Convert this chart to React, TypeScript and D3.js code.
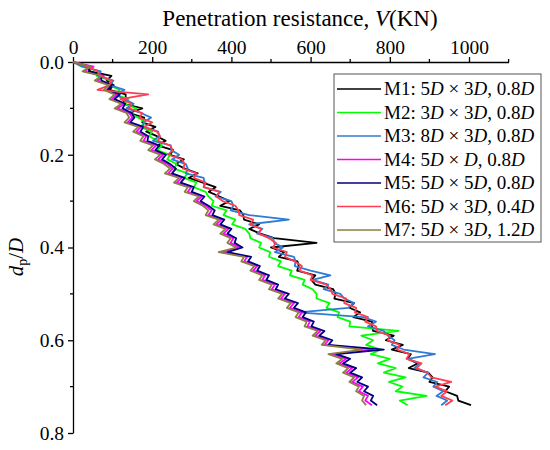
import React, { useEffect, useRef } from "react";
import * as d3 from "d3";

// depth ratio d_p/D shared by all runs
const depth = [
  0, 0.01, 0.02, 0.03, 0.04, 0.05, 0.06, 0.07, 0.08, 0.09,
  0.1, 0.11, 0.12, 0.13, 0.14, 0.15, 0.16, 0.17, 0.18, 0.19,
  0.2, 0.21, 0.22, 0.23, 0.24, 0.25, 0.26, 0.27, 0.28, 0.29,
  0.3, 0.31, 0.32, 0.33, 0.34, 0.35, 0.36, 0.37, 0.38, 0.39,
  0.4, 0.41, 0.42, 0.43, 0.44, 0.45, 0.46, 0.47, 0.48, 0.49,
  0.5, 0.51, 0.52, 0.53, 0.54, 0.55, 0.56, 0.57, 0.58, 0.59,
  0.6, 0.61, 0.62, 0.63, 0.64, 0.65, 0.66, 0.67, 0.68, 0.69,
  0.7, 0.71, 0.72, 0.73, 0.74,
];

// penetration resistance V (KN) per model
const m1 = [
  0, 40, 43, 97, 85, 103, 92, 133, 133, 125,
  175, 142, 180, 175, 208, 185, 212, 234, 213, 253,
  245, 280, 260, 282, 315, 292, 328, 360, 343, 370,
  395, 372, 422, 430, 432, 470, 445, 473, 508, 615,
  500, 533, 520, 567, 570, 566, 612, 602, 612, 657,
  663, 660, 710, 698, 725, 708, 755, 755, 758, 810,
  790, 833, 805, 853, 845, 870, 848, 897, 908, 900,
  950, 940, 970, 973, 1005,
];
const m2 = [
  0, 22, 68, 60, 95, 92, 118, 105, 140, 128,
  160, 140, 165, 182, 170, 200, 192, 215, 225, 212,
  245, 238, 262, 255, 290, 280, 312, 305, 335, 342,
  355, 350, 388, 380, 410, 402, 435, 445, 448, 475,
  470, 498, 495, 525, 518, 552, 548, 585, 580, 605,
  615, 615, 648, 640, 672, 668, 700, 698, 822, 728,
  758, 740, 778, 752, 800, 770, 815, 785, 840, 798,
  832, 815, 893, 825, 845,
];
const m3 = [
  0, 25, 70, 65, 102, 92, 130, 106, 130, 153,
  135, 172, 197, 178, 178, 215, 218, 202, 247, 248,
  268, 250, 285, 290, 285, 330, 332, 330, 373, 360,
  400, 405, 398, 445, 545, 445, 478, 465, 505, 508,
  530, 510, 558, 562, 560, 600, 650, 605, 645, 633,
  675, 685, 710, 695, 570, 733, 765, 745, 785, 795,
  812, 805, 835, 914, 845, 875, 862, 897, 885, 920,
  910, 935, 918, 945, 930,
];
const m4 = [
  0, 52, 28, 78, 62, 95, 85, 112, 98, 130,
  112, 142, 150, 138, 172, 160, 185, 178, 210, 198,
  228, 215, 238, 252, 240, 275, 262, 298, 290, 325,
  312, 335, 350, 342, 375, 362, 392, 380, 405, 398,
  420, 375, 440, 432, 465, 455, 485, 478, 510, 502,
  535, 525, 558, 548, 578, 570, 598, 592, 625, 612,
  645, 635, 758, 655, 690, 672, 705, 690, 720, 705,
  732, 722, 745, 738, 755,
];
const m5 = [
  0, 42, 40, 70, 72, 98, 88, 118, 105, 132,
  125, 148, 155, 145, 178, 170, 190, 188, 218, 208,
  235, 225, 245, 260, 250, 282, 272, 305, 300, 332,
  322, 342, 358, 352, 382, 372, 400, 390, 412, 408,
  428, 390, 450, 442, 472, 465, 495, 488, 518, 512,
  545, 535, 568, 558, 588, 580, 608, 602, 635, 622,
  655, 645, 785, 665, 700, 682, 715, 700, 730, 718,
  745, 735, 758, 752, 768,
];
const m6 = [
  0, 38, 62, 68, 98, 92, 62, 190, 120, 148,
  142, 175, 168, 200, 180, 212, 220, 215, 245, 252,
  240, 275, 282, 278, 312, 305, 335, 330, 370, 362,
  378, 410, 418, 420, 455, 448, 475, 470, 495, 512,
  505, 540, 535, 560, 578, 572, 605, 600, 640, 650,
  655, 690, 685, 715, 712, 745, 738, 765, 768, 800,
  795, 825, 818, 850, 842, 880, 868, 895, 905, 955,
  915, 945, 930, 958, 940,
];
const m7 = [
  0, 46, 24, 72, 55, 90, 78, 105, 92, 122,
  105, 135, 142, 130, 165, 152, 178, 170, 202, 190,
  220, 207, 230, 245, 232, 268, 255, 290, 282, 318,
  305, 328, 342, 335, 368, 355, 385, 372, 398, 390,
  412, 368, 432, 425, 458, 448, 478, 470, 502, 495,
  528, 518, 550, 540, 570, 562, 590, 585, 618, 605,
  638, 628, 730, 645, 680, 665, 695, 682, 710, 698,
  722, 715, 735, 730, 740,
];

const names = ["M1", "M2", "M3", "M4", "M5", "M6", "M7"];
const configs = ["5D × 3D, 0.8D", "3D × 3D, 0.8D", "8D × 3D, 0.8D", "5D × D, 0.8D", "5D × 5D, 0.8D", "5D × 3D, 0.4D", "5D × 3D, 1.2D"];
const series = [m1, m2, m3, m4, m5, m6, m7];
const colors = ["#000000", "#00ff00", "#2f7bd4", "#ff00ff", "#000080", "#ff3c50", "#8c7d42"];

const xMajor = [0, 200, 400, 600, 800, 1000];
const xMinor = [100, 300, 500, 700, 900, 1100];
const yMajor = [0, 0.2, 0.4, 0.6, 0.8];
const yMinor = [0.1, 0.3, 0.5, 0.7];

const font = "'Liberation Serif', 'Times New Roman', serif";

export default function App() {
  const ref = useRef<SVGGElement>(null);

  useEffect(() => {
    const svg = d3.select(ref.current);
    svg.selectAll("*").remove();

    const x = d3.scaleLinear().domain([0, 1100]).range([73, 508.6]);
    const y = d3.scaleLinear().domain([0, 0.8]).range([62, 433]);

    // top axis
    const gx = svg.append("g").attr("transform", `translate(0,${y(0)})`);
    gx.call(d3.axisTop(x).tickValues(xMajor).tickSize(5).tickSizeOuter(0).tickPadding(3).tickFormat(d3.format("d")));
    gx.selectAll(".minor")
      .data(xMinor)
      .enter()
      .append("line")
      .attr("class", "minor")
      .attr("x1", (d) => x(d))
      .attr("x2", (d) => x(d))
      .attr("y1", 0)
      .attr("y2", -3);

    // left axis
    const gy = svg.append("g").attr("transform", `translate(${x(0)},0)`);
    gy.call(d3.axisLeft(y).tickValues(yMajor).tickSize(5).tickSizeOuter(0).tickPadding(4).tickFormat(d3.format(".1f")));
    gy.selectAll(".minor")
      .data(yMinor)
      .enter()
      .append("line")
      .attr("class", "minor")
      .attr("x1", 0)
      .attr("x2", -3)
      .attr("y1", (d) => y(d))
      .attr("y2", (d) => y(d));

    [gx, gy].forEach((g) => {
      g.selectAll("path, line").attr("stroke", "#000").attr("stroke-width", 1.3);
      g.selectAll("text").attr("font-family", font).attr("font-size", 19.5).attr("fill", "#000");
    });

    // lines
    const line = d3
      .line<number>()
      .x((v) => x(v))
      .y((v, i) => y(depth[i]));

    series.forEach((s, k) => {
      svg
        .append("path")
        .datum(s)
        .attr("d", line)
        .attr("fill", "none")
        .attr("stroke", colors[k])
        .attr("stroke-width", 1.8)
        .attr("stroke-linejoin", "round");
    });

    // legend
    const lg = svg.append("g");
    lg.append("rect")
      .attr("x", 334)
      .attr("y", 74)
      .attr("width", 207)
      .attr("height", 168)
      .attr("fill", "#fff")
      .attr("stroke", "#555")
      .attr("stroke-width", 1);

    names.forEach((n, i) => {
      const ry = 89 + i * 23.5;
      lg.append("line")
        .attr("x1", 337)
        .attr("x2", 381)
        .attr("y1", ry)
        .attr("y2", ry)
        .attr("stroke", colors[i])
        .attr("stroke-width", 1.6);
      const t = lg
        .append("text")
        .attr("x", 384)
        .attr("y", ry + 6)
        .attr("font-family", font)
        .attr("font-size", 19)
        .attr("fill", "#000");
      t.append("tspan").text(`${n}: `);
      configs[i].split("D").forEach((part, j, arr) => {
        t.append("tspan").text(part);
        if (j < arr.length - 1) t.append("tspan").attr("font-style", "italic").text("D");
      });
    });
  }, []);

  return (
    <svg width={550} height={450} style={{ position: "absolute", left: 0, top: 0, background: "#fff" }}>
      <text x={300} y={26} textAnchor="middle" fontFamily={font} fontSize={23}>
        Penetration resistance, <tspan fontStyle="italic">V</tspan>(KN)
      </text>
      <text transform="translate(23,257) rotate(-90)" textAnchor="middle" fontFamily={font} fontSize={21}>
        <tspan fontStyle="italic">d</tspan>
        <tspan fontSize={14} dy={4}>p</tspan>
        <tspan dy={-4}>/</tspan>
        <tspan fontStyle="italic">D</tspan>
      </text>
      <g ref={ref} />
    </svg>
  );
}
